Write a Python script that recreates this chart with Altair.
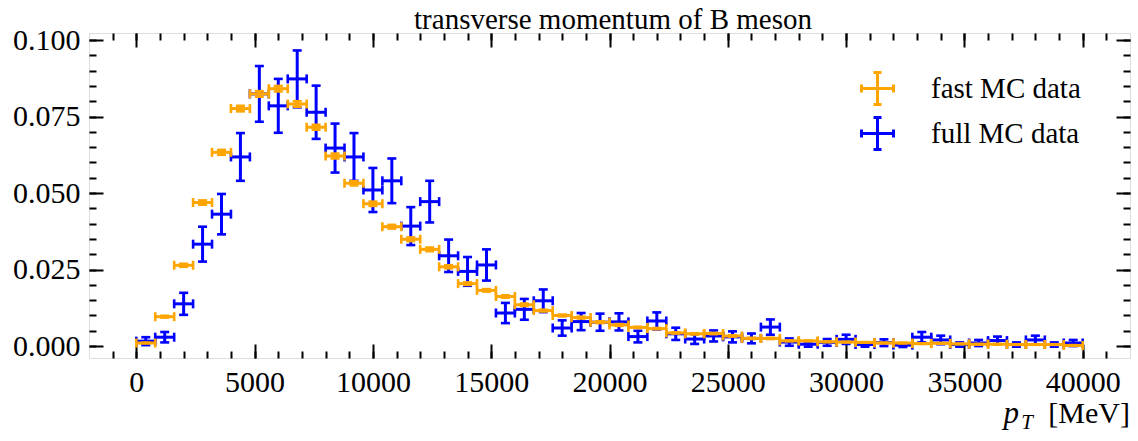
import altair as alt
import pandas as pd

FONT = "Liberation Serif"
ORANGE = "#FFA500"
BLUE = "#0000FF"

series_names = ["fast MC data", "full MC data"]
series_colors = [ORANGE, BLUE]

half_width = 400
bin_centers = list(range(400, 40000, 800))

fast_vals = [0.0010, 0.0096, 0.0264, 0.0469, 0.0633, 0.0776, 0.0824, 0.0841, 0.0791, 0.0715,
             0.0621, 0.0532, 0.0465, 0.0390, 0.0349, 0.0316, 0.0259, 0.0204, 0.0182, 0.0162,
             0.0135, 0.0116, 0.0100, 0.0093, 0.0078, 0.0069, 0.0061, 0.0057, 0.0043, 0.0040,
             0.0041, 0.0033, 0.0025, 0.0025, 0.0017, 0.0017, 0.0014, 0.0013, 0.0012, 0.0010,
             0.0010, 0.0008, 0.0009, 0.0007, 0.0006, 0.0006, 0.0005, 0.0005, 0.0005, 0.0002]
fast_err = [0.0001, 0.0003, 0.0005, 0.0007, 0.0008, 0.0009, 0.0009, 0.0009, 0.0009, 0.0008,
            0.0008, 0.0007, 0.0007, 0.0006, 0.0006, 0.0006, 0.0005, 0.0004, 0.0004, 0.0004,
            0.0004, 0.0003, 0.0003, 0.0003, 0.0003, 0.0003, 0.0002, 0.0002, 0.0002, 0.0002,
            0.0002, 0.0002, 0.0002, 0.0002, 0.0001, 0.0001, 0.0001, 0.0001, 0.0001, 0.0001,
            0.0001, 0.0001, 0.0001, 0.0001, 0.0001, 0.0001, 0.0001, 0.0001, 0.0001, 0.0001]

full_vals = [0.0016, 0.0029, 0.0138, 0.0333, 0.0431, 0.0618, 0.0824, 0.0785, 0.0873, 0.0764,
             0.0647, 0.0618, 0.0510, 0.0540, 0.0392, 0.0472, 0.0295, 0.0244, 0.0265, 0.0108,
             0.0120, 0.0148, 0.0059, 0.0080, 0.0078, 0.0079, 0.0031, 0.0082, 0.0040, 0.0023,
             0.0033, 0.0030, 0.0025, 0.0062, 0.0013, 0.0006, 0.0012, 0.0022, 0.0005, 0.0011,
             0.0003, 0.0029, 0.0020, 0.0005, 0.0010, 0.0018, 0.0005, 0.0020, 0.0005, 0.0010]
full_err = [0.0013, 0.0017, 0.0036, 0.0057, 0.0066, 0.0078, 0.0091, 0.0088, 0.0093, 0.0087,
            0.0080, 0.0078, 0.0072, 0.0073, 0.0062, 0.0068, 0.0053, 0.0047, 0.0051, 0.0033,
            0.0034, 0.0037, 0.0025, 0.0028, 0.0028, 0.0028, 0.0019, 0.0028, 0.0020, 0.0016,
            0.0018, 0.0018, 0.0016, 0.0025, 0.0012, 0.0008, 0.0011, 0.0015, 0.0007, 0.0011,
            0.0006, 0.0017, 0.0014, 0.0007, 0.0010, 0.0013, 0.0007, 0.0014, 0.0007, 0.0010]

x_major = [0, 5000, 10000, 15000, 20000, 25000, 30000, 35000, 40000]
x_minor = list(range(-1000, 42000, 1000))
y_major = [0.0, 0.025, 0.05, 0.075, 0.1]
y_minor = [i * 0.005 for i in range(0, 21)]

title_text = "transverse momentum of B meson"


def make_df(vals, errs):
    df = pd.DataFrame({"x": bin_centers, "y": vals, "err": errs})
    df["xl"] = df["x"] - half_width
    df["xr"] = df["x"] + half_width
    df["lo"] = df["y"] - df["err"]
    df["hi"] = df["y"] + df["err"]
    return df


fast_df = make_df(fast_vals, fast_err)
full_df = make_df(full_vals, full_err)
legend_df = pd.DataFrame({"x": [0, 0], "y": [0, 0], "series": series_names})

xs = alt.Scale(domain=[-2000, 42000], nice=False, zero=False)
ys = alt.Scale(domain=[-0.0039, 0.1023], nice=False, zero=False)

MAJ = 14
MIN = 7


def tick_axis(orient, values, size):
    return alt.Axis(orient=orient, values=values, labels=False, domain=False, grid=False,
                    ticks=True, tickSize=size, tickWidth=2, tickColor="black",
                    offset=-size, title=None)


label_x = alt.Axis(orient="bottom", values=x_major, format="d", ticks=False, domain=False,
                   grid=False, labelFont=FONT, labelFontSize=30, labelPadding=9,
                   labelFlush=False, labelOverlap=False, labelColor="black", title=None)
label_y = alt.Axis(orient="left", values=y_major, format=".3f", ticks=False, domain=False,
                   grid=False, labelFont=FONT, labelFontSize=30, labelPadding=9,
                   labelOverlap=False, labelColor="black", title=None)

SYMBOL = ("M-1,0H1M0,-1V1M-0.25,-1H0.25M-0.25,1H0.25M-1,-0.25V0.25M1,-0.25V0.25")

legend_layer = alt.Chart(legend_df).transform_filter("false").mark_rule(strokeWidth=3).encode(
    x=alt.X("x:Q", scale=xs, axis=label_x),
    y=alt.Y("y:Q", scale=ys, axis=label_y),
    color=alt.Color("series:N",
                    scale=alt.Scale(domain=series_names, range=series_colors),
                    legend=alt.Legend(title=None, orient="none", legendX=771, legendY=38,
                                      symbolType=SYMBOL, symbolSize=1024,
                                      symbolStrokeWidth=3, symbolFillColor="transparent",
                                      labelFont=FONT, labelFontSize=29, labelColor="black",
                                      labelOffset=36, rowPadding=0, padding=0)),
)

SW = 3
CAP = 9
CAPT = 2.6


def series_layers(df, color, axes):
    xbar = alt.Chart(df).mark_rule(color=color, strokeWidth=SW).encode(
        x=alt.X("xl:Q", scale=xs, axis=axes[0]),
        x2="xr:Q",
        y=alt.Y("y:Q", scale=ys, axis=axes[1]),
    )
    ybar = alt.Chart(df).mark_rule(color=color, strokeWidth=SW).encode(
        x=alt.X("x:Q", scale=xs, axis=axes[2]),
        y=alt.Y("lo:Q", scale=ys, axis=axes[3]),
        y2="hi:Q",
    )
    hcaps = alt.Chart(df).transform_fold(["lo", "hi"], as_=["k", "yv"]).mark_tick(
        orient="horizontal", size=CAP, thickness=CAPT, color=color, opacity=1).encode(
        x=alt.X("x:Q", scale=xs, axis=None),
        y=alt.Y("yv:Q", scale=ys, axis=None),
    )
    vcaps = alt.Chart(df).transform_fold(["xl", "xr"], as_=["k", "xv"]).mark_tick(
        orient="vertical", size=CAP, thickness=CAPT, color=color, opacity=1).encode(
        x=alt.X("xv:Q", scale=xs, axis=None),
        y=alt.Y("y:Q", scale=ys, axis=None),
    )
    return [xbar, ybar, hcaps, vcaps]


blue_layers = series_layers(full_df, BLUE, [
    tick_axis("bottom", x_major, MAJ), tick_axis("left", y_major, MAJ),
    tick_axis("bottom", x_minor, MIN), tick_axis("left", y_minor, MIN)])
orange_layers = series_layers(fast_df, ORANGE, [
    tick_axis("top", x_major, MAJ), tick_axis("right", y_major, MAJ),
    tick_axis("top", x_minor, MIN), tick_axis("right", y_minor, MIN)])

t_df = pd.DataFrame({"unit": ["[MeV]"], "p": ["p"], "s": ["T"], "ttl": [title_text]})
title_mark = alt.Chart(t_df).mark_text(font=FONT, fontSize=29, align="center",
                                       baseline="alphabetic", color="black").encode(
    x=alt.value(524), y=alt.value(-4), text="ttl:N")
unit_text = alt.Chart(t_df).mark_text(font=FONT, fontSize=30, align="right",
                                      baseline="alphabetic", color="black").encode(
    x=alt.value(1041), y=alt.value(390), text="unit:N")
sub_text = alt.Chart(t_df).mark_text(font=FONT, fontSize=21, fontStyle="italic", align="right",
                                     baseline="alphabetic", color="black").encode(
    x=alt.value(944), y=alt.value(396), text="s:N")
p_text = alt.Chart(t_df).mark_text(font=FONT, fontSize=31, fontStyle="italic", align="right",
                                   baseline="alphabetic", color="black").encode(
    x=alt.value(930), y=alt.value(390), text="p:N")

chart = alt.layer(
    legend_layer, *blue_layers, *orange_layers, title_mark, unit_text, sub_text, p_text
).resolve_axis(x="independent", y="independent").properties(
    width=1041, height=325,
    autosize=alt.AutoSizeParams(type="none"),
    padding={"left": 89, "top": 33, "right": 8, "bottom": 83},
).configure_view(stroke="black", strokeWidth=2).configure(background="white")

chart.save("out.html", embed_options={"renderer": "svg", "actions": False})
